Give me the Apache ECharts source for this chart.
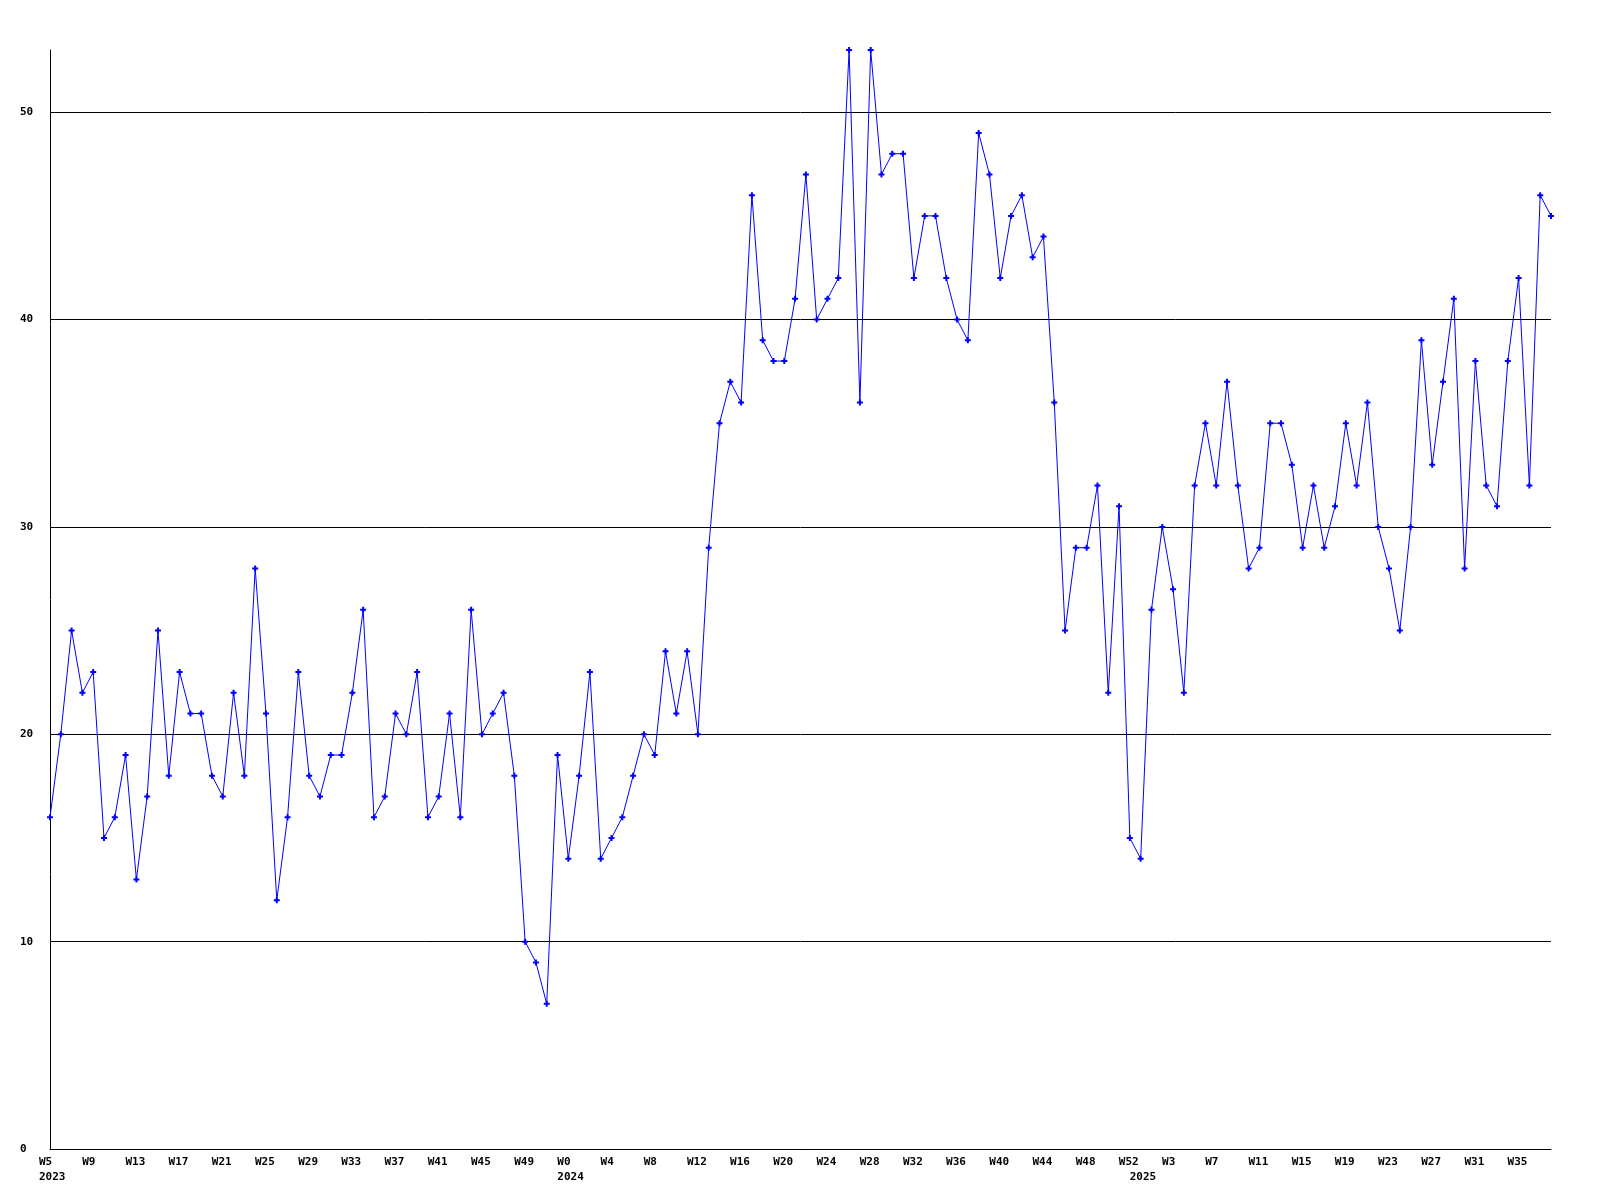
<!DOCTYPE html>
<html>
<head>
<meta charset="utf-8">
<script src="https://cdn.jsdelivr.net/npm/echarts@6/dist/echarts.min.js"></script>
<style>
  html, body { margin: 0; padding: 0; background: #ffffff; }
  #chart { width: 1600px; height: 1200px; }
</style>
</head>
<body>
<div id="chart"></div>
<script>
// Week labels per year
const weeks2023 = ['W5','W6','W7','W8','W9','W10','W11','W12','W13','W14','W15','W16','W17','W18','W19','W20','W21','W22','W23','W24','W25','W26','W27','W28','W29','W30','W31','W32','W33','W34','W35','W36','W37','W38','W39','W40','W41','W42','W43','W44','W45','W46','W47','W48','W49','W50','W51','W52'];
const weeks2024 = ['W0','W1','W2','W3','W4','W5','W6','W7','W8','W9','W10','W11','W12','W13','W14','W15','W16','W17','W18','W19','W20','W21','W22','W23','W24','W25','W26','W27','W28','W29','W30','W31','W32','W33','W34','W35','W36','W37','W38','W39','W40','W41','W42','W43','W44','W45','W46','W47','W48','W49','W50','W51','W52'];
const weeks2025 = ['W0','W1','W2','W3','W4','W5','W6','W7','W8','W9','W10','W11','W12','W13','W14','W15','W16','W17','W18','W19','W20','W21','W22','W23','W24','W25','W26','W27','W28','W29','W30','W31','W32','W33','W34','W35','W36','W37','W38'];

// Series values per year
const values2023 = [16,20,25,22,23,15,16,19,13,17,25,18,23,21,21,18,17,22,18,28,21,12,16,23,18,17,19,19,22,26,16,17,21,20,23,16,17,21,16,26,20,21,22,18,10,9,7,19];
const values2024 = [14,18,23,14,15,16,18,20,19,24,21,24,20,29,35,37,36,46,39,38,38,41,47,40,41,42,53,36,53,47,48,48,42,45,45,42,40,39,49,47,42,45,46,43,44,36,25,29,29,32,22,31,15];
const values2025 = [14,26,30,27,22,32,35,32,37,32,28,29,35,35,33,29,32,29,31,35,32,36,30,28,25,30,39,33,37,41,28,38,32,31,38,42,32,46,45];

const years = ['2023', '2024', '2025'];
const yTicks = [0, 10, 20, 30, 40, 50];

const categories = weeks2023.concat(weeks2024, weeks2025);
const values = values2023.concat(values2024, values2025);
const yearStart = {};
yearStart[0] = years[0];
yearStart[weeks2023.length] = years[1];
yearStart[weeks2023.length + weeks2024.length] = years[2];

const FONT = 'DejaVu Sans Mono';
const chart = echarts.init(document.getElementById('chart'), null, { renderer: 'canvas' });

chart.setOption({
  animation: false,
  backgroundColor: '#ffffff',
  grid: { left: 50, right: 49, top: 50, bottom: 51, containLabel: false },
  xAxis: {
    type: 'category',
    data: categories,
    boundaryGap: false,
    axisLine: { show: true, lineStyle: { color: '#000000', width: 1 } },
    axisTick: { show: false },
    splitLine: { show: false },
    axisLabel: {
      show: true,
      interval: function (index) { return index % 4 === 0 || yearStart[index] !== undefined; },
      hideOverlap: false,
      margin: 6,
      align: 'center',
      formatter: function (value, index) {
        const wk = (index % 4 === 0) ? value : ' ';
        if (yearStart[index] !== undefined) {
          return '{w|' + wk + '}\n{y|' + yearStart[index] + '}';
        }
        return '{w|' + wk + '}';
      },
      rich: {
        w: { width: 22, align: 'left', fontFamily: FONT, fontWeight: 'bold', fontSize: 11, lineHeight: 15, color: '#000000' },
        y: { width: 22, align: 'left', fontFamily: FONT, fontWeight: 'bold', fontSize: 11, lineHeight: 15, color: '#000000' }
      }
    }
  },
  yAxis: {
    type: 'value',
    min: 0,
    max: 53,
    interval: 10,
    axisLine: { show: true, lineStyle: { color: '#000000', width: 1 } },
    axisTick: { show: false },
    splitLine: { show: true, showMaxLine: false, lineStyle: { color: '#000000', width: 1 } },
    axisLabel: {
      show: true,
      showMaxLabel: false,
      align: 'left',
      margin: 30,
      fontFamily: FONT,
      fontWeight: 'bold',
      fontSize: 11,
      color: '#000000',
      formatter: function (v) { return yTicks.indexOf(v) >= 0 ? String(v) : ''; }
    }
  },
  series: [{
    type: 'line',
    data: values,
    symbol: 'path://M2,0H4V2H6V4H4V6H2V4H0V2H2Z',
    symbolSize: 6,
    showAllSymbol: true,
    itemStyle: { color: '#0000ff' },
    lineStyle: { color: '#0000ff', width: 1 },
    emphasis: { disabled: true }
  }]
});
</script>
</body>
</html>
